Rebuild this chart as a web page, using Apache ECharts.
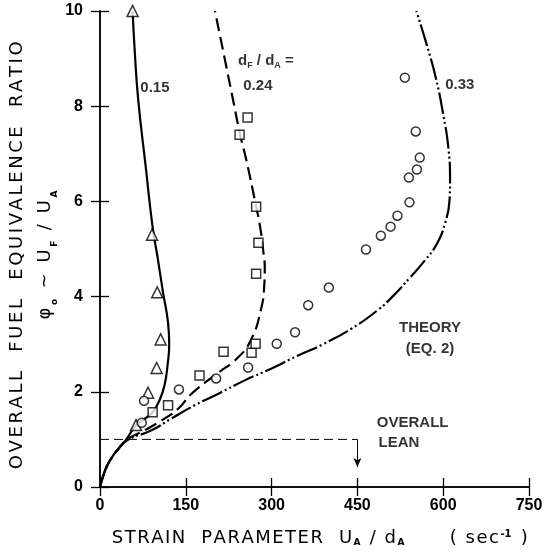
<!DOCTYPE html>
<html>
<head>
<meta charset="utf-8">
<script src="https://cdn.jsdelivr.net/npm/echarts@6/dist/echarts.min.js"></script>
<style>html,body{margin:0;padding:0;background:#fff}#c{width:555px;height:556px}</style>
</head>
<body>
<div id="c"></div>
<script>
// ---- data (x: strain parameter U_A/d_A [1/s], y: overall equivalence ratio) ----
var xTicks = [0, 150, 300, 450, 600, 750];
var yTicks = [0, 2, 4, 6, 8, 10];

var theory015 = [[0,0],[8,0.32],[18,0.57],[32,0.8],[46,1.0],[62,1.28],[78,1.43],[92,1.57],[105,1.85],[113,2.15],[118,2.55],[121,3.0],[119,3.45],[110,4.1],[101,4.8],[92,5.46],[80,6.72],[67,8.11],[61,9.1],[57,10]];
var theory024 = [[0,0],[8,0.32],[18,0.57],[32,0.8],[48,1.0],[79,1.2],[108,1.4],[137,1.65],[160,1.96],[201,2.35],[242,2.73],[265,3.12],[281,3.71],[287,4.2],[288,4.6],[285,5.0],[280,5.46],[273,5.89],[256,6.86],[245,7.4],[233,8.11],[218,9.0],[201,10]];
var theory033 = [[0,0],[8,0.32],[18,0.57],[32,0.8],[49,0.99],[90,1.19],[125,1.44],[166,1.72],[207,1.96],[253,2.24],[300,2.49],[344,2.75],[390,3.0],[440,3.33],[486,3.72],[513,4.02],[542,4.4],[568,4.76],[589,5.11],[603,5.53],[611,6.02],[612,6.44],[609,7.13],[600,7.83],[587,8.6],[571,9.3],[553,10]];

var triangles015 = [[57,10],[91,5.3],[100,4.09],[106,3.1],[99,2.5],[84,1.98],[63,1.3]];
var squares024 = [[92,1.57],[119,1.72],[174,2.34],[216,2.84],[265,2.82],[272,3.01],[273,4.48],[277,5.13],[273,5.89],[244,7.4],[258,7.76]];
var circles033 = [[73,1.35],[77,1.81],[138,2.05],[203,2.28],[259,2.51],[309,3.01],[341,3.25],[364,3.82],[400,4.19],[465,4.99],[491,5.28],[508,5.47],[520,5.7],[541,5.98],[540,6.5],[554,6.67],[559,6.92],[552,7.47],[533,8.6]];

var leanLine = [[0,1],[450,1]];
var leanArrow = [[450,1.0],[450,0.42]];

var annotationTexts = ['0.15', 'd{sub|F} / d{sub|A} =', '0.24', '0.33', 'THEORY', '(EQ. 2)'];
var annotationAnchors = [[96,8.39],[290,8.95],[276,8.43],[629,8.45],[577,3.35],[577,2.91]];
var leftTexts = ['OVERALL', 'LEAN'];
var leftAnchors = [[484,1.34],[487,0.92]];

// axis titles: [text, style] pieces
var xTitleParts = [['STRAIN  PARAMETER  U', 'm'], ['A', 'sub'], [' / d', 'm'], ['A', 'sub'], ['      ( sec', 'm'], ['-1', 'sup'], [' )', 'm']];
var yTitleLine1 = [['OVERALL  FUEL  EQUIVALENCE  RATIO', 'l']];
var yTitleLine2 = [['φ', 'l'], ['o', 'sub'], [' ~ U', 'l'], ['F', 'sub'], [' / U', 'l'], ['A', 'sub']];

// ---- chart ----
var FONT = 'DejaVu Sans';
var LFONT = 'Liberation Sans';
function richify(parts) {
  return parts.map(function (p) {
    if (p[1] === 'sub' || p[1] === 'sup') return '{' + p[1] + '|' + p[0] + '}';
    return p[0].split('').map(function (c) { return '{' + p[1] + '|' + c + '}'; }).join('');
  }).join('');
}
var titleRich = {
  l: { fontSize: 18, fontFamily: FONT, color: '#000', padding: [0, 2.6, 0, 0] },
  m: { fontSize: 18, fontFamily: FONT, color: '#000', padding: [0, 1.5, 0, 0] },
  sub: { fontSize: 9, fontFamily: FONT, fontWeight: 'bold', verticalAlign: 'bottom', padding: [9, 2, 0, 0], color: '#000' },
  sup: { fontSize: 10, fontFamily: FONT, fontWeight: 'bold', verticalAlign: 'top', padding: [0, 2, 8, 0], color: '#000' }
};
var subStyle = { fontSize: 9, fontFamily: LFONT, fontWeight: 'bold', verticalAlign: 'bottom', padding: [9, 0, 0, 0], color: '#000' };
var chart = echarts.init(document.getElementById('c'), null, { renderer: 'canvas' });

function annSeries(texts, anchors, align) {
  return {
    type: 'scatter', symbolSize: 1, symbol: 'circle', itemStyle: { color: 'rgba(0,0,0,0)' },
    silent: true, z: 10,
    data: anchors.map(function (a, i) { return { value: a, name: texts[i] }; }),
    label: {
      show: true, position: 'inside', align: align, verticalAlign: 'middle',
      formatter: function (p) { return p.name; },
      fontFamily: LFONT, fontSize: 15, fontWeight: 'bold', color: '#000',
      rich: { sub: subStyle }
    }
  };
}

var axisLineStyle = { lineStyle: { color: '#000', width: 1.5 } };
var tickStyle = { show: true, inside: true, length: 9, lineStyle: { color: '#000', width: 1.3 } };
var curveCommon = { smooth: 0.5, showSymbol: false, symbol: 'none' };

var option = {
  animation: false,
  backgroundColor: '#fff',
  grid: { left: 100, right: 26, top: 11, bottom: 69, outerBoundsMode: 'none', containLabel: false },
  xAxis: [{
    type: 'value', min: xTicks[0], max: xTicks[xTicks.length - 1], interval: 150,
    position: 'bottom',
    axisLine: axisLineStyle, axisTick: tickStyle, splitLine: { show: false },
    axisLabel: { color: '#000', fontFamily: LFONT, fontSize: 16, fontWeight: 'bold', margin: 11 },
    name: richify(xTitleParts),
    nameLocation: 'middle', nameGap: 42, nameMoveOverlap: false,
    nameTextStyle: { color: '#000', fontFamily: FONT, fontSize: 18, padding: [0, 0, 0, 12], rich: titleRich }
  }, {
    type: 'value', min: xTicks[0], max: xTicks[xTicks.length - 1], interval: 150,
    position: 'top',
    axisLine: axisLineStyle, axisTick: tickStyle, splitLine: { show: false },
    axisLabel: { show: false }
  }],
  yAxis: [{
    type: 'value', min: yTicks[0], max: yTicks[yTicks.length - 1], interval: 2,
    position: 'left',
    axisLine: axisLineStyle, axisTick: tickStyle, splitLine: { show: false },
    axisLabel: { color: '#000', fontFamily: LFONT, fontSize: 16, fontWeight: 'bold', margin: 17 },
    name: richify(yTitleLine1) + '\n' + richify(yTitleLine2),
    nameLocation: 'middle', nameRotate: 90, nameGap: 41, nameMoveOverlap: false,
    nameTextStyle: { color: '#000', fontFamily: FONT, fontSize: 18, lineHeight: 28, align: 'center', padding: [0, 10, 0, 0], rich: titleRich }
  }, {
    type: 'value', min: yTicks[0], max: yTicks[yTicks.length - 1], interval: 2,
    position: 'right',
    axisLine: axisLineStyle, axisTick: tickStyle, splitLine: { show: false },
    axisLabel: { show: false }
  }],
  series: [
    Object.assign({ name: 'theory 0.15', type: 'line', data: theory015,
      lineStyle: { color: '#000', width: 2.2, type: 'solid' } }, curveCommon),
    Object.assign({ name: 'theory 0.24', type: 'line', data: theory024,
      lineStyle: { color: '#000', width: 2.2, type: [13, 6] } }, curveCommon),
    Object.assign({ name: 'theory 0.33', type: 'line', data: theory033,
      lineStyle: { color: '#000', width: 2.2, type: [22, 3, 2, 3, 2, 3] } }, curveCommon),
    { name: 'lean', type: 'line', data: leanLine, showSymbol: false, symbol: 'none',
      lineStyle: { color: '#000', width: 1, type: [9, 5] },
      markLine: {
        silent: true, symbol: ['none', 'arrow'], symbolSize: [6, 9], label: { show: false },
        lineStyle: { color: '#000', width: 1, type: 'solid' },
        data: [[{ coord: leanArrow[0] }, { coord: leanArrow[1] }]]
      } },
    { name: 'triangles', type: 'scatter', data: triangles015, symbol: 'triangle', symbolSize: 11,
      itemStyle: { color: '#fff', borderColor: '#000', borderWidth: 1.5 }, z: 5 },
    { name: 'squares', type: 'scatter', data: squares024, symbol: 'rect', symbolSize: 9,
      itemStyle: { color: '#fff', borderColor: '#000', borderWidth: 1.5 }, z: 5 },
    { name: 'circles', type: 'scatter', data: circles033, symbol: 'circle', symbolSize: 9,
      itemStyle: { color: '#fff', borderColor: '#000', borderWidth: 1.5 }, z: 5 },
    annSeries(annotationTexts, annotationAnchors, 'center'),
    annSeries(leftTexts, leftAnchors, 'left')
  ]
};
chart.setOption(option);
</script>
</body>
</html>
